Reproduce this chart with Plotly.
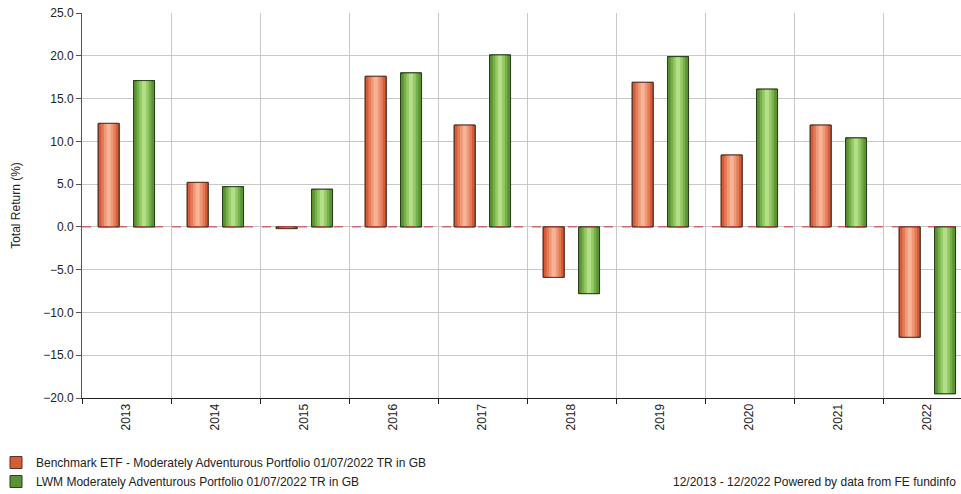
import plotly.graph_objects as go

years = ["2013", "2014", "2015", "2016", "2017", "2018", "2019", "2020", "2021", "2022"]
benchmark = [12.1, 5.2, -0.2, 17.6, 11.9, -5.9, 16.9, 8.4, 11.9, -12.9]
lwm = [17.1, 4.7, 4.4, 18.0, 20.1, -7.8, 19.9, 16.1, 10.4, -19.5]

names = [
    "Benchmark ETF - Moderately Adventurous Portfolio 01/07/2022 TR in GB",
    "LWM Moderately Adventurous Portfolio 01/07/2022 TR in GB",
]
series = [benchmark, lwm]
centers = [-0.2, 0.197]
bar_w = 0.236
shades = [
    ["#D65B37", "#E47A57", "#EE9878", "#F5B496"],
    ["#5A9234", "#77AF4B", "#97CA67", "#B3DF88"],
]
outlines = ["#5a3426", "#2c3f1e"]
fracs = [1.0, 0.7, 0.45, 0.2]

W, H = 961, 494
ML, MT, PH = 82, 13, 385
PW = W - ML

fig = go.Figure()
for si, (vals, nm) in enumerate(zip(series, names)):
    for li, (fr, col) in enumerate(zip(fracs, shades[si])):
        w = bar_w * fr
        fig.add_trace(go.Bar(
            x=years, y=vals, name=nm,
            width=[w] * len(years),
            offset=[centers[si] - w / 2] * len(years),
            marker=dict(color=col,
                        line=dict(color=outlines[si], width=1 if li == 0 else 0)),
            showlegend=(li == 0), legendgroup=str(si),
            hoverinfo="skip",
        ))
    fig.add_trace(go.Bar(
        x=years, y=vals, name=nm,
        width=[bar_w] * len(years),
        offset=[centers[si] - bar_w / 2] * len(years),
        marker=dict(color="rgba(0,0,0,0)", line=dict(color=outlines[si], width=1)),
        showlegend=False, legendgroup=str(si), hoverinfo="skip",
    ))

fig.add_shape(type="line", xref="paper", yref="y", x0=0, x1=1, y0=0, y1=0,
              line=dict(color="#C8343F", width=1, dash="dash"))

fig.add_annotation(text="12/2013 - 12/2022 Powered by data from FE fundinfo",
                   xref="paper", yref="paper", x=(958 - ML) / PW, y=-(482 - MT - PH) / PH,
                   xanchor="right", yanchor="middle", showarrow=False,
                   font=dict(size=12, color="#222"))

fig.update_layout(
    width=W, height=H,
    margin=dict(l=ML, r=0, t=MT, b=H - MT - PH, autoexpand=False),
    paper_bgcolor="white", plot_bgcolor="white",
    barmode="overlay",
    font=dict(family="Liberation Sans, Arial", size=12, color="#222"),
    showlegend=True,
    legend=dict(x=-(ML + 4) / PW, xref="paper", xanchor="left", y=-50 / PH, yanchor="top",
                font=dict(size=12, color="#222"), tracegroupgap=0,
                bgcolor="rgba(0,0,0,0)", itemwidth=30),
    xaxis=dict(type="category", range=[-0.5, -0.5 + PW / 89], tickson="boundaries",
               showgrid=True, gridcolor="#c8c8c8", gridwidth=1,
               showline=True, linecolor="#222", linewidth=1,
               ticks="outside", ticklen=5, tickcolor="#222",
               tickangle=-90, tickfont=dict(size=12)),
    yaxis=dict(range=[-20, 25], dtick=5, tickformat=".1f",
               showgrid=True, gridcolor="#c8c8c8", gridwidth=1,
               zeroline=False, showline=True, linecolor="#555", linewidth=1,
               ticks="outside", ticklen=5, tickcolor="#555",
               ticklabeloverflow="allow",
               title=dict(text="Total Return (%)", font=dict(size=12), standoff=20)),
)

fig.write_html(
    "out.html",
    config={"displayModeBar": False},
    post_script="document.body.style.margin='0';document.body.style.overflow='hidden';",
)
